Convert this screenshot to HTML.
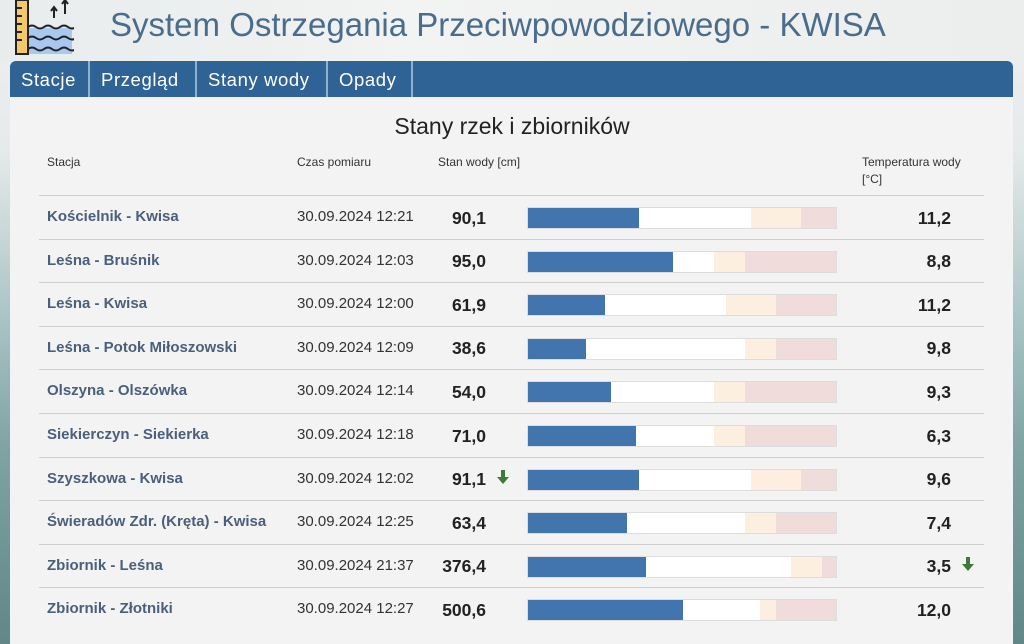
<!DOCTYPE html>
<html><head><meta charset="utf-8"><style>
*{margin:0;padding:0;box-sizing:border-box}
body{width:1024px;height:644px;overflow:hidden;position:relative;font-family:"Liberation Sans",sans-serif;
background:linear-gradient(to bottom,#eef0f0 0px,#e6eaea 150px,#a9c3c3 320px,#7fa3a2 450px,#5f8886 644px);}
.hdr{position:absolute;left:0;top:0;width:1024px;height:62px;background:linear-gradient(to right,#e8ecec,#f2f3f3 40%,#eceeee)}
.title{position:absolute;left:110px;top:6px;font-size:33px;color:#4a6d8c;white-space:nowrap}
.nav{position:absolute;left:10px;top:61px;width:1003px;height:36px;background:#2f6396;border-radius:6px 6px 0 0}
.nav span{position:absolute;top:0;height:36px;line-height:37px;color:#fff;font-size:18.5px;letter-spacing:0.6px;border-right:2px solid #8fb0cf;padding:0 11px}
.panel{position:absolute;left:10px;top:97px;width:1003px;height:547px;background:#f3f3f3}
.h2{position:absolute;left:0;width:1024px;top:113px;text-align:center;font-size:23px;color:#222}
.th{position:absolute;font-size:12px;color:#333;line-height:17px}
.sep{position:absolute;left:39px;width:945px;height:1px;background:#cfcfcf}
.st{position:absolute;left:47px;font-size:15px;font-weight:bold;color:#4a5f7a}
.tm{position:absolute;left:297px;font-size:15px;color:#333}
.v{position:absolute;width:100px;left:386px;text-align:right;font-size:17.5px;font-weight:bold;color:#222}
.t{position:absolute;width:100px;left:851px;text-align:right;font-size:17.5px;font-weight:bold;color:#222}
.bar{position:absolute;left:527px;width:310px;height:22px;background:#f1dcdc;border:1px solid #ddd}
.bar div{position:absolute;top:0;height:100%}
.ar{position:absolute}
</style></head><body>
<div class="hdr"></div>
<svg style="position:absolute;left:14px;top:0" width="60" height="56">
<rect x="2" y="0" width="12" height="54" fill="#f3c86a" stroke="#222" stroke-width="2"/>
<rect x="14" y="28" width="44" height="26" fill="#a8c8f0"/>
<g stroke="#222" stroke-width="2" fill="none">
<path d="M14 0V54M2 8h6M2 16h6M2 24h6M2 32h6M2 40h6"/>
<path d="M14 27q4-3 8 0t8 0t8 0t8 0t8 0t8 0"/>
<path d="M14 38q4-3 8 0t8 0t8 0t8 0t8 0t8 0"/>
<path d="M14 49q4-3 8 0t8 0t8 0t8 0t8 0t8 0"/>
<path d="M40 18V8M37 11l3-4 3 4M51 14V1M48 4l3-4 3 4"/></g></svg>
<div class="title">System Ostrzegania Przeciwpowodziowego - KWISA</div>
<div class="panel"></div>
<div class="nav">
<span style="left:0;width:80px">Stacje</span>
<span style="left:80px;width:107px">Przegląd</span>
<span style="left:187px;width:131px">Stany wody</span>
<span style="left:318px;width:85px">Opady</span>
</div>
<div class="h2">Stany rzek i zbiorników</div>
<div class="th" style="left:47px;top:154px">Stacja</div>
<div class="th" style="left:297px;top:154px">Czas pomiaru</div>
<div class="th" style="left:438px;top:154px">Stan wody [cm]</div>
<div class="th" style="left:862px;top:154px">Temperatura wody<br>[°C]</div>
<div id="rows"></div>
<script>
var d=[["Kościelnik - Kwisa","30.09.2024 12:21","90,1","11,2",638,750,800,0,0],
["Leśna - Bruśnik","30.09.2024 12:03","95,0","8,8",672,713,744,0,0],
["Leśna - Kwisa","30.09.2024 12:00","61,9","11,2",604,725,775,0,0],
["Leśna - Potok Miłoszowski","30.09.2024 12:09","38,6","9,8",585,744,775,0,0],
["Olszyna - Olszówka","30.09.2024 12:14","54,0","9,3",610,713,744,0,0],
["Siekierczyn - Siekierka","30.09.2024 12:18","71,0","6,3",635,713,744,0,0],
["Szyszkowa - Kwisa","30.09.2024 12:02","91,1","9,6",638,750,800,1,0],
["Świeradów Zdr. (Kręta) - Kwisa","30.09.2024 12:25","63,4","7,4",626,744,775,0,0],
["Zbiornik - Leśna","30.09.2024 21:37","376,4","3,5",645,790,821,0,1],
["Zbiornik - Złotniki","30.09.2024 12:27","500,6","12,0",682,759,775,0,0]];
var arrow='<svg width="12" height="14"><path d="M4 0h4v7h4l-6 7l-6-7h4z" fill="#3d7a3a"/></svg>';
var h="";
for(var i=0;i<10;i++){var r=d[i],y=195+i*43.6;
h+='<div class="sep" style="top:'+y.toFixed(0)+'px"></div>';
var ty=y+13;
h+='<div class="st" style="top:'+(ty)+'px">'+r[0]+'</div>';
h+='<div class="tm" style="top:'+(ty)+'px">'+r[1]+'</div>';
h+='<div class="v" style="top:'+(ty-0.5)+'px">'+r[2]+'</div>';
h+='<div class="t" style="top:'+(ty-0.5)+'px">'+r[3]+'</div>';
h+='<div class="bar" style="top:'+(y+12)+'px"><div style="left:0;width:'+(r[4]-527)+'px;background:#4274ad"></div><div style="left:'+(r[4]-527)+'px;width:'+(r[5]-r[4])+'px;background:#fff"></div><div style="left:'+(r[5]-527)+'px;width:'+(r[6]-r[5])+'px;background:#fcefdf"></div></div>';
if(r[7])h+='<div class="ar" style="left:497px;top:'+(ty)+'px">'+arrow+'</div>';
if(r[8])h+='<div class="ar" style="left:962px;top:'+(ty)+'px">'+arrow+'</div>';
}
document.getElementById("rows").innerHTML=h;
</script>
</body></html>
